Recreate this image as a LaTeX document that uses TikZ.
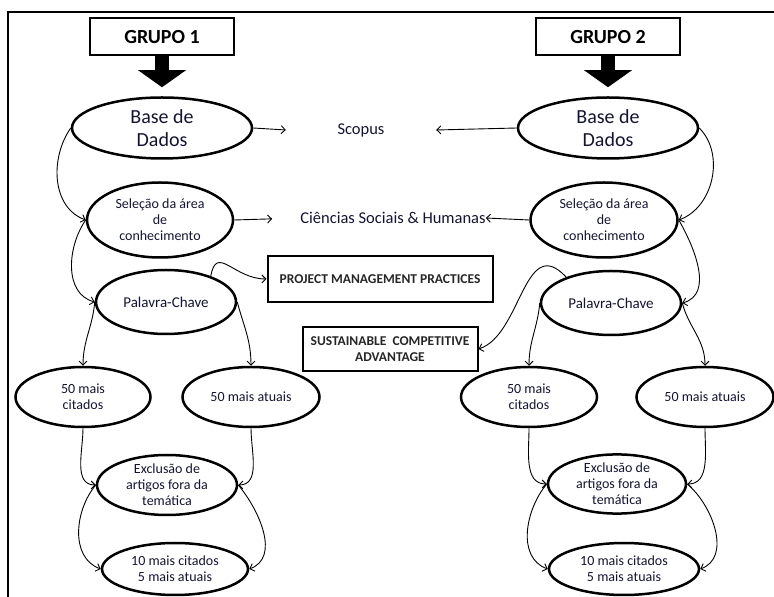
\documentclass[tikz,border=0pt]{standalone}
\usepackage{fontspec}
\setmainfont{Carlito}
\usetikzlibrary{arrows.meta,shapes.geometric,positioning}
\definecolor{txt}{RGB}{20,20,50}

\begin{document}
\begin{tikzpicture}[x=1pt,y=1pt,>={Straight Barb[length=4pt,width=8pt]},
		oval/.style={ellipse,draw,line width=2.5pt,inner sep=0pt,align=center,text=txt},
		grupo/.style={draw,line width=2pt,minimum width=144pt,minimum height=37pt,font=\fontsize{20}{24}\selectfont\bfseries},
		tema/.style={draw,line width=2pt,align=center,text=black!85,font=\fontsize{13.5}{16}\selectfont\bfseries},
		big/.style={font=\fontsize{20}{23}\selectfont},
		small/.style={font=\fontsize{14}{16}\selectfont},
		seta/.style={line width=14pt,-{Triangle[length=17pt,width=47pt]},shorten >=9pt},
		link/.style={->,line width=0.9pt}]
	\useasboundingbox (0,0) rectangle (774,597);
	\draw[line width=2.5pt] (8,0) |- (774,585);

	\node[grupo] (grupo_1) at (162,560) {GRUPO 1};
	\node[grupo] (grupo_2) at (608,560) {GRUPO 2};

	\node[oval,big,minimum width=180pt,minimum height=61pt] (base_1) at (162,469) {Base de\\Dados};
	\node[oval,big,minimum width=180pt,minimum height=61pt] (base_2) at (608,469) {Base de\\Dados};
	\node[inner sep=0pt,minimum width=150pt,text=txt,font=\fontsize{16.5}{20}\selectfont] (scopus) at (361,467) {Scopus};

	\node[oval,small,minimum width=146pt,minimum height=75pt] (sel_1) at (160,377) {Seleção da área\\de\\conhecimento};
	\node[oval,small,minimum width=147pt,minimum height=75pt] (sel_2) at (604,377) {Seleção da área\\de\\conhecimento};
	\node[inner sep=0pt,text=txt,font=\fontsize{16.5}{20}\selectfont] (cien) at (393,379) {Ciências Sociais \& Humanas};

	\node[oval,font=\fontsize{15}{17}\selectfont,minimum width=140pt,minimum height=64pt] (pc_1) at (166,295) {Palavra-Chave};
	\node[oval,font=\fontsize{15}{17}\selectfont,minimum width=140pt,minimum height=64pt] (pc_2) at (611,294) {Palavra-Chave};
	\node[tema,minimum width=225pt,minimum height=46pt] (pmp) at (380,318) {PROJECT MANAGEMENT PRACTICES};
	\node[tema,minimum width=175pt,minimum height=44pt] (sca) at (390,248) {SUSTAINABLE\ \ COMPETITIVE\\ADVANTAGE};

	\node[oval,small,minimum width=135pt,minimum height=60pt] (cit_1) at (83,200) {50 mais\\citados};
	\node[oval,small,minimum width=137pt,minimum height=60pt] (atu_1) at (251,200) {50 mais atuais};
	\node[oval,small,minimum width=136pt,minimum height=60pt] (cit_2) at (529,200) {50 mais\\citados};
	\node[oval,small,minimum width=137pt,minimum height=60pt] (atu_2) at (705,200) {50 mais atuais};

	\node[oval,small,minimum width=140pt,minimum height=60pt] (exc_1) at (167,112) {Exclusão de\\artigos fora da\\temática};
	\node[oval,small,minimum width=138pt,minimum height=58pt] (exc_2) at (617,113) {Exclusão de\\artigos fora da\\temática};

	\node[oval,small,minimum width=146pt,minimum height=52pt] (top_1) at (175,28) {10 mais citados\\5 mais atuais};
	\node[oval,small,minimum width=150pt,minimum height=52pt] (top_2) at (624,28) {10 mais citados\\5 mais atuais};

	\draw[seta] (grupo_1.south) -- (base_1.north);
	\draw[seta] (grupo_2.south) -- (base_2.north);

	% grupo 1
	\path[link]
		(base_1.east) edge (scopus.west)
		(sel_1.east) edge[shorten >=28pt] (cien.west)
		(base_1.west) edge[out=235,in=160] (sel_1.west)
		(sel_1.west) edge[out=235,in=165] (pc_1.west)
		(pc_1.west) edge[out=265,in=90] (cit_1.north)
		(pc_1.east) edge[out=285,in=90] (atu_1.north)
		(pc_1.30) edge[out=80,in=180,looseness=1.5] (pmp.west)
		(cit_1.south) edge[out=270,in=180] (exc_1.west)
		(atu_1.south) edge[out=270,in=0] (exc_1.east)
		(exc_1.west) edge[out=230,in=160] (top_1.west)
		(exc_1.east) edge[out=-50,in=20] (top_1.east);

	% grupo 2
	\path[link]
		(base_2.west) edge (scopus.east)
		(sel_2.west) edge (cien.east)
		(base_2.east) edge[out=-45,in=20] (sel_2.east)
		(sel_2.east) edge[out=-60,in=15] (pc_2.east)
		(pc_2.west) edge[out=265,in=90] (cit_2.north)
		(pc_2.east) edge[out=-75,in=90] (atu_2.north)
		(cit_2.south) edge[out=270,in=180] (exc_2.west)
		(atu_2.south) edge[out=270,in=0] (exc_2.east)
		(exc_2.west) edge[out=230,in=160] (top_2.west)
		(exc_2.east) edge[out=-40,in=20] (top_2.east);
	\draw[link] (pc_2.150) .. controls +(-42,45) and +(43,14) .. (sca.east);
\end{tikzpicture}
\end{document}
